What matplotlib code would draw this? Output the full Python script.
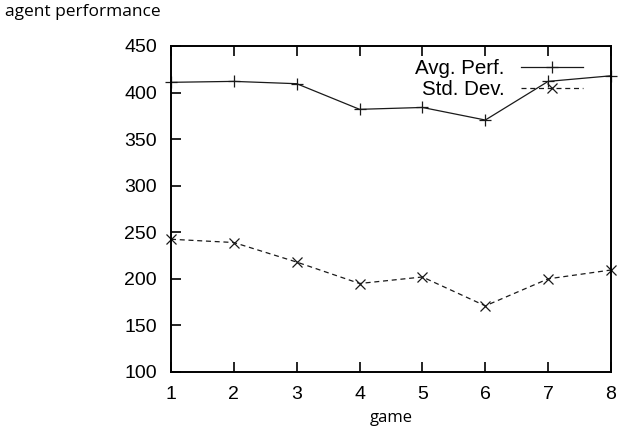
import matplotlib
matplotlib.use('Agg')
import matplotlib.pyplot as plt

# games played and the agent's scores per game
games = [1, 2, 3, 4, 5, 6, 7, 8]
avg_perf = [411, 412, 409.5, 382, 384, 370.5, 412, 418]
std_dev = [242.5, 239, 218, 195, 202, 171, 200, 209.5]

plt.rcParams['font.family'] = 'Liberation Sans'

fig = plt.figure(figsize=(6.18, 4.29), dpi=100)
ax = fig.add_axes([0.2767, 0.1329, 0.7120, 0.7599])

ax.plot(games, avg_perf, color='#1a1a1a', linewidth=0.9, marker='+',
        markersize=9, markeredgewidth=0.9, clip_on=False, label='Avg. Perf.')
ax.plot(games, std_dev, color='#1a1a1a', linewidth=0.9, linestyle=(0, (4, 3)),
        marker='x', markersize=7, markeredgewidth=0.9, clip_on=False,
        label='Std. Dev.')

ax.set_xlim(1, 8)
ax.set_ylim(100, 450)
ax.set_xticks(games)
ax.set_yticks(range(100, 451, 50))

# gnuplot-like frame: inward ticks, x ticks mirrored on top
ax.tick_params(axis='both', direction='in', length=7, width=1.2,
               labelsize=14, pad=10)
ax.tick_params(axis='x', top=True)
for s in ax.spines.values():
    s.set_linewidth(1.4)

ax.legend(loc='upper right', bbox_to_anchor=(0.936, 0.96), frameon=False,
          markerfirst=False, fontsize=14.8, handlelength=3.0,
          handletextpad=0.8, labelspacing=0.1, borderpad=0, borderaxespad=0)

ax.set_xlabel('game', family='Open Sans', fontsize=12, labelpad=5)
fig.text(5 / 618, 1 - 12 / 429, 'agent performance', family='Open Sans',
         fontsize=12.5, va='center', ha='left')

fig.savefig('out.png', dpi=100)
